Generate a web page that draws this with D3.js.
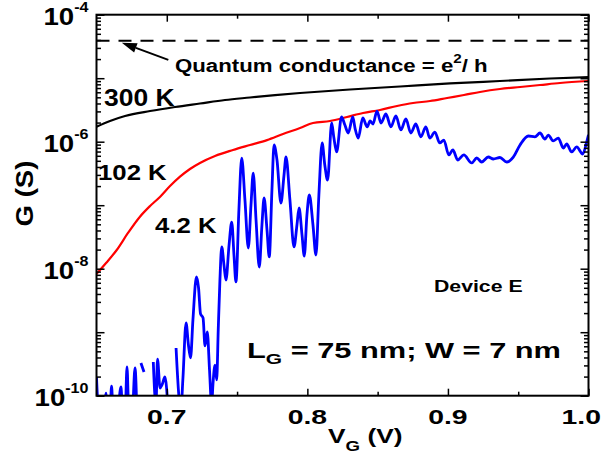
<!DOCTYPE html>
<html>
<head>
<meta charset="utf-8">
<script src="https://cdn.jsdelivr.net/npm/d3@7"></script>
<style>
  body { margin: 0; background: #fff; }
  text { font-family: "Liberation Sans", Arial, sans-serif; font-weight: bold; fill: #000; }
</style>
</head>
<body>
<svg id="chart" width="608" height="461"></svg>
<script>
// Gate voltage sweeps (V) and conductance (S) of device E at three temperatures
const v300 = [0.650, 0.6596, 0.6703, 0.6881, 0.7058, 0.7236, 0.7414, 0.7592, 0.7770, 0.7948,
  0.8303, 0.8659, 0.9015, 0.9370, 0.9726, 1.000];
const g300 = [1.72e-6, 2.12e-6, 2.54e-6, 3.04e-6, 3.52e-6, 4.00e-6, 4.54e-6, 4.97e-6, 5.43e-6, 5.85e-6,
  6.64e-6, 7.40e-6, 8.26e-6, 9.03e-6, 9.89e-6, 1.04e-5];

const v102 = [0.650, 0.6568, 0.6644, 0.6724, 0.6809, 0.6881, 0.6953, 0.7023, 0.7094, 0.7165,
  0.7236, 0.7343, 0.7471, 0.7592, 0.7713, 0.7827, 0.7948, 0.8040, 0.8161, 0.8282,
  0.8396, 0.8517, 0.8638, 0.8752, 0.8873, 0.8994, 0.9114, 0.9228, 0.9370, 0.9513,
  0.9655, 0.9797, 1.000];
const g102 = [8.26e-9, 1.23e-8, 1.97e-8, 3.65e-8, 6.59e-8, 9.71e-8, 1.36e-7, 2.00e-7, 2.81e-7, 3.72e-7,
  4.63e-7, 5.96e-7, 7.40e-7, 8.87e-7, 1.06e-6, 1.32e-6, 1.64e-6, 1.97e-6, 2.12e-6, 2.45e-6,
  2.83e-6, 3.16e-6, 3.65e-6, 4.07e-6, 4.37e-6, 4.88e-6, 5.43e-6, 6.07e-6, 6.76e-6, 7.27e-6,
  7.81e-6, 8.40e-6, 9.03e-6];

// 4.2 K sweep; null marks readings with no valid (positive) conductance
const v4 = [0.6500, 0.6511, 0.6532, 0.6553, 0.6568, 0.6578, 0.6596, 0.6607, 0.6617, 0.6646,
  0.6674, 0.6685, 0.6703, 0.6717, 0.6731, 0.6753, 0.6774, 0.6788, 0.6800, 0.6816,
  0.6838, 0.6850, 0.6904, 0.6923, 0.6934, 0.6952, 0.6966, 0.6987, 0.7009, 0.7020,
  0.7066, 0.7090, 0.7101, 0.7115, 0.7137, 0.7154, 0.7169, 0.7186, 0.7211, 0.7226,
  0.7240, 0.7258, 0.7272, 0.7288, 0.7304, 0.7319, 0.7329, 0.7343, 0.7355, 0.7366,
  0.7378, 0.7391, 0.7407, 0.7421, 0.7443, 0.7462, 0.7478, 0.7492, 0.7513, 0.7533,
  0.7556, 0.7580, 0.7599, 0.7615, 0.7635, 0.7658, 0.7677, 0.7692, 0.7713, 0.7729,
  0.7748, 0.7763, 0.7784, 0.7812, 0.7834, 0.7848, 0.7876, 0.7905, 0.7926, 0.7941,
  0.7962, 0.7978, 0.7997, 0.8014, 0.8040, 0.8061, 0.8082, 0.8105, 0.8124, 0.8144,
  0.8173, 0.8189, 0.8208, 0.8243, 0.8267, 0.8291, 0.8323, 0.8339, 0.8362, 0.8394,
  0.8426, 0.8446, 0.8467, 0.8495, 0.8524, 0.8559, 0.8594, 0.8630, 0.8665, 0.8701,
  0.8736, 0.8772, 0.8807, 0.8843, 0.8871, 0.8907, 0.8942, 0.8971, 0.9006, 0.9035,
  0.9070, 0.9113, 0.9169, 0.9205, 0.9240, 0.9287, 0.9323, 0.9370, 0.9418, 0.9465,
  0.9513, 0.9572, 0.9619, 0.9655, 0.9690, 0.9714, 0.9749, 0.9785, 0.9821, 0.9845,
  0.9880, 0.9916, 0.9959, 0.9987, 1.0000];
const g4 = [1.97e-10, 7.1e-11, 5.0e-11, 6.4e-11, 1.10e-10, 6.0e-11, 5.0e-11, 1.42e-10, 6.0e-11, 4.5e-11,
  1.37e-10, 5.5e-11, 4.5e-11, 2.83e-10, 4.5e-11, 4.5e-11, 2.73e-10, 4.5e-11, null, 3.27e-10,
  2.36e-10, null, 3.40e-10, 7.1e-11, 3.78e-10, 1.32e-10, 1.48e-10, 1.97e-10, 6.0e-11, null,
  5.64e-10, 8.0e-11, 6.4e-11, 1.90e-10, 1.40e-9, 6.28e-10, 3.93e-10, 1.56e-9, 7.4e-9, 4.97e-9,
  1.94e-9, 1.68e-9, 6.07e-10, 1.01e-9, 2.54e-10, 7.1e-11, 1.58e-10, 3.04e-10, 1.77e-10, 1.08e-9,
  6.63e-9, 2.20e-8, 1.14e-8, 6.63e-9, 2.36e-8, 5.43e-8, 1.64e-8, 6.18e-9, 8.39e-8, 5.53e-7,
  1.21e-7, 2.12e-8, 1.01e-7, 3.21e-7, 5.85e-8, 1.06e-8, 4.88e-8, 1.30e-7, 4.06e-8, 1.53e-8,
  1.73e-7, 8.87e-7, 5.15e-7, 1.08e-7, 2.99e-7, 5.74e-7, 1.21e-7, 2.20e-8, 4.88e-8, 9.03e-8,
  3.40e-8, 1.58e-8, 7.02e-8, 1.45e-7, 4.88e-8, 1.64e-8, 1.45e-7, 9.55e-7, 4.30e-7, 2.49e-7,
  1.97e-6, 1.14e-6, 6.89e-7, 2.45e-6, 1.83e-6, 1.37e-6, 2.45e-6, 1.64e-6, 1.14e-6, 2.36e-6,
  1.71e-6, 2.12e-6, 1.90e-6, 3.04e-6, 1.97e-6, 2.73e-6, 1.71e-6, 2.54e-6, 1.53e-6, 2.28e-6,
  1.37e-6, 1.90e-6, 1.19e-6, 1.71e-6, 1.14e-6, 1.42e-6, 9.55e-7, 1.06e-6, 6.18e-7, 7.40e-7,
  5.15e-7, 6.18e-7, 4.63e-7, 5.54e-7, 4.79e-7, 5.74e-7, 5.34e-7, 5.64e-7, 4.79e-7, 5.74e-7,
  8.87e-7, 1.23e-6, 1.19e-6, 1.37e-6, 1.10e-6, 1.27e-6, 1.03e-6, 1.14e-6, 7.96e-7, 9.20e-7,
  6.89e-7, 8.26e-7, 6.40e-7, 9.89e-7, 1.28e-6];

// Conductance quantum e^2/h (S)
const quantumG = 3.874e-5;

// Axis ticks and labels
const xMajorTicks = [0.7, 0.8, 0.9, 1.0];
const xMinorTicks = [0.75, 0.85, 0.95];
const xTickLabels = ["0.7", "0.8", "0.9", "1.0"];
const yMajorTicks = [1e-10, 1e-9, 1e-8, 1e-7, 1e-6, 1e-5, 1e-4];
const yLabelTicks = [1e-10, 1e-8, 1e-6, 1e-4];
const yLabelExponents = ["-10", "-8", "-6", "-4"];
const yMinorTicks = [];
yMajorTicks.slice(0, -1).forEach(d => { for (let m = 2; m <= 9; m++) yMinorTicks.push(d * m); });

const W = 608;
const svg = d3.select("#chart");
const L = 96.5, R = 588.5, T = 14.7, B = 395.7;
const x = d3.scaleLinear().domain([0.65, 1.0]).range([L, R]);
const y = d3.scaleLog().domain([1e-10, 1e-4]).range([B, T]);

svg.append("defs").append("clipPath").attr("id", "plot-clip")
  .append("rect").attr("x", L).attr("y", T).attr("width", R - L).attr("height", B - T);

const plot = svg.append("g").attr("clip-path", "url(#plot-clip)");

const toPoints = (vs, gs) => vs.map((v, i) => ({ v, g: gs[i] }));
const line = d3.line()
  .defined(d => d.g != null)
  .x(d => x(d.v))
  .y(d => y(d.g))
  .curve(d3.curveMonotoneX);

// quantum-conductance level
plot.append("line")
  .attr("x1", x(0.65)).attr("x2", x(1.0))
  .attr("y1", y(quantumG)).attr("y2", y(quantumG))
  .attr("stroke", "#000").attr("stroke-width", 2).attr("stroke-dasharray", "13,9");

plot.append("path").datum(toPoints(v300, g300))
  .attr("d", line).attr("fill", "none").attr("stroke", "#000").attr("stroke-width", 2.2);
plot.append("path").datum(toPoints(v102, g102))
  .attr("d", line).attr("fill", "none").attr("stroke", "#ff0000").attr("stroke-width", 2.2);
plot.append("path").datum(toPoints(v4, g4))
  .attr("d", line).attr("fill", "none").attr("stroke", "#0000ff").attr("stroke-width", 2.8)
  .attr("stroke-linejoin", "round");

// axes: ticks point into the plot on all four sides
function ticksOnly(axis) {
  return g => {
    g.call(axis.tickFormat("").tickSizeOuter(0));
    g.select(".domain").remove();
    g.selectAll(".tick line").attr("stroke", "#000").attr("stroke-width", 1.5);
  };
}
svg.append("g").attr("transform", `translate(0,${B})`)
  .call(ticksOnly(d3.axisBottom(x).tickValues(xMajorTicks).tickSizeInner(-7)));
svg.append("g").attr("transform", `translate(0,${B})`)
  .call(ticksOnly(d3.axisBottom(x).tickValues(xMinorTicks).tickSizeInner(-4)));
svg.append("g").attr("transform", `translate(0,${T})`)
  .call(ticksOnly(d3.axisTop(x).tickValues(xMajorTicks).tickSizeInner(-7)));
svg.append("g").attr("transform", `translate(0,${T})`)
  .call(ticksOnly(d3.axisTop(x).tickValues(xMinorTicks).tickSizeInner(-4)));
svg.append("g").attr("transform", `translate(${L},0)`)
  .call(ticksOnly(d3.axisLeft(y).tickValues(yMajorTicks).tickSizeInner(-8)));
svg.append("g").attr("transform", `translate(${L},0)`)
  .call(ticksOnly(d3.axisLeft(y).tickValues(yMinorTicks).tickSizeInner(-4.5)));
svg.append("g").attr("transform", `translate(${R},0)`)
  .call(ticksOnly(d3.axisRight(y).tickValues(yMajorTicks).tickSizeInner(-8)));
svg.append("g").attr("transform", `translate(${R},0)`)
  .call(ticksOnly(d3.axisRight(y).tickValues(yMinorTicks).tickSizeInner(-4.5)));

svg.append("rect").attr("x", L).attr("y", T).attr("width", R - L).attr("height", B - T)
  .attr("fill", "none").attr("stroke", "#000").attr("stroke-width", 2);

// text helper: bold text widened horizontally around its anchor point
function label(px, py, size, sx, anchor = "start", rotate = 0) {
  return svg.append("text")
    .attr("transform", `translate(${px},${py}) rotate(${rotate}) scale(${sx},1)`)
    .attr("font-size", size).attr("text-anchor", anchor);
}

// x tick labels, kept inside the canvas at the right edge
const xLabelStretch = 1.35;
xMajorTicks.forEach((v, i) => {
  const t = label(0, 0, 21, xLabelStretch, "middle").text(xTickLabels[i]);
  const half = t.node().getBBox().width * xLabelStretch / 2;
  const cx = Math.min(x(v), W - 7 - half);
  t.attr("transform", `translate(${cx},423.5) scale(${xLabelStretch},1)`);
});

// y tick labels: 10 with superscript exponent
yLabelTicks.forEach((g, i) => {
  const t = label(88.5, y(g) + 10.5, 24, 1.15, "end");
  t.append("tspan").text("10");
  t.append("tspan").attr("font-size", 14).attr("dy", -13.5).text(yLabelExponents[i]);
});

// axis titles
const xt = label(328, 442.5, 21, 1.25, "start");
xt.append("tspan").text("V");
xt.append("tspan").attr("font-size", 15).attr("dy", 8).text("G");
xt.append("tspan").attr("dy", -8).text(" (V)");

label(33, 193.5, 23, 1.2, "middle", -90).text("G (S)");

// curve labels
label(104, 106, 23, 1.15).text("300 K");
label(98, 180, 23, 1.12).text("102 K");
label(155, 232.5, 23, 1.12).text("4.2 K");

// quantum conductance annotation
const q = label(175, 71.5, 19, 1.17);
q.append("tspan").text("Quantum conductance = e");
q.append("tspan").attr("font-size", 13).attr("dy", -9).text("2");
q.append("tspan").attr("dy", 9).text("/ h");

const arrowTail = { v: 0.7011, g: 1.94e-5 };
const arrowTip = { v: 0.6680, g: 3.62e-5 };
const ax0 = x(arrowTail.v), ay0 = y(arrowTail.g), ax1 = x(arrowTip.v), ay1 = y(arrowTip.g);
const ang = Math.atan2(ay1 - ay0, ax1 - ax0);
const headLen = 15, headHalf = 5;
const bx = ax1 - headLen * Math.cos(ang), by = ay1 - headLen * Math.sin(ang);
svg.append("line").attr("x1", ax0).attr("y1", ay0).attr("x2", bx).attr("y2", by)
  .attr("stroke", "#000").attr("stroke-width", 2);
svg.append("path")
  .attr("d", `M${ax1},${ay1}L${bx + headHalf * Math.sin(ang)},${by - headHalf * Math.cos(ang)}L${bx - headHalf * Math.sin(ang)},${by + headHalf * Math.cos(ang)}Z`)
  .attr("fill", "#000");

label(434, 292, 17, 1.25).text("Device E");

const dev = label(247, 358, 22, 1.4);
dev.append("tspan").text("L");
dev.append("tspan").attr("font-size", 15).attr("dy", 6).text("G");
dev.append("tspan").attr("dy", -6).text(" = 75 nm; W = 7 nm");
</script>
</body>
</html>
